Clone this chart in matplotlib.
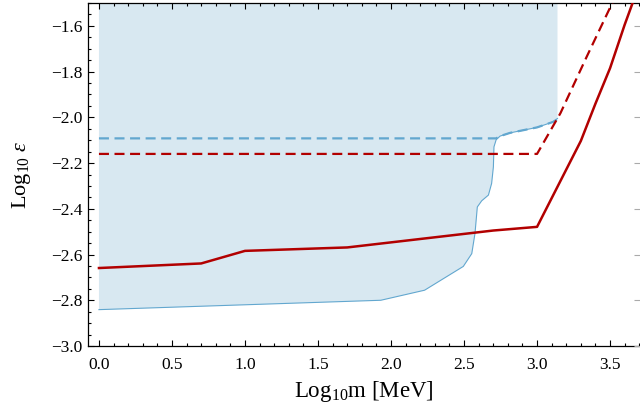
import matplotlib
matplotlib.use("Agg")
import matplotlib.pyplot as plt
from matplotlib.ticker import MultipleLocator

plt.rcParams['font.family'] = ['Liberation Serif', 'DejaVu Serif']
plt.rcParams['mathtext.fontset'] = 'custom'
plt.rcParams['mathtext.rm'] = 'Liberation Serif'
plt.rcParams['mathtext.it'] = 'Liberation Serif:italic'

# excluded region (lower boundary of the shaded area)
region_x = [0.0, 1.93, 2.23, 2.495, 2.553, 2.575, 2.591, 2.621, 2.667, 2.689,
            2.701, 2.705, 2.72, 2.747, 2.815, 2.9, 3.0, 3.11, 3.14]
region_y = [-2.841, -2.80, -2.756, -2.652, -2.596, -2.508, -2.392, -2.365, -2.34, -2.289,
            -2.217, -2.129, -2.098, -2.082, -2.068, -2.057, -2.044, -2.02, -2.005]
region_right = 3.14

# projected reach, blue dashed
blue_x = [0.0, 2.72, 2.747, 2.815, 2.9, 3.0, 3.11, 3.135]
blue_y = [-2.092, -2.092, -2.082, -2.068, -2.057, -2.044, -2.02, -2.01]

# red solid
red_x = [0.0, 0.7, 1.0, 1.7, 2.7, 3.0, 3.3, 3.4, 3.5, 3.6, 3.66]
red_y = [-2.659, -2.639, -2.584, -2.569, -2.495, -2.479, -2.103, -1.94, -1.785, -1.595, -1.49]

# red dashed
redd_x = [0.0, 3.0, 3.16, 3.34, 3.53]
redd_y = [-2.16, -2.16, -1.982, -1.735, -1.48]

red = '#b20000'
blue_line = '#62a7cf'
blue_fill = '#d8e8f1'

fig = plt.figure(figsize=(6.4, 4.09), dpi=100)
ax = fig.add_axes([88 / 640, 1 - 346 / 409, 552 / 640, 343 / 409])

poly_x = region_x + [region_right, region_right, 0.0]
poly_y = region_y + [-2.0, -1.3, -1.3]
ax.fill(poly_x, poly_y, color=blue_fill, lw=0, zorder=1)
ax.plot(region_x, region_y, color=blue_line, lw=0.8, zorder=2)
ax.plot(blue_x, blue_y, color=blue_line, lw=1.6, ls=(0, (4.5, 2.5)), zorder=3)

ax.plot(red_x, red_y, color=red, lw=1.8, zorder=4)
ax.plot(redd_x, redd_y, color=red, lw=1.6, ls=(0, (4.5, 2.5)), zorder=4)

ax.set_xlim(-0.075, 3.705)
ax.set_ylim(-3.0, -1.5)

ax.xaxis.set_major_locator(MultipleLocator(0.5))
ax.xaxis.set_minor_locator(MultipleLocator(0.1))
ax.yaxis.set_major_locator(MultipleLocator(0.2))
ax.yaxis.set_minor_locator(MultipleLocator(0.05))
ax.xaxis.set_major_formatter(plt.FormatStrFormatter('%.1f'))
ax.yaxis.set_major_formatter(plt.FuncFormatter(lambda v, p: ('\u2212%.1f' % abs(v)) if v < 0 else '%.1f' % v))

ax.tick_params(which='both', direction='in', top=True, right=False, labelsize=12.5,
               width=0.8, color='black')
ax.tick_params(which='major', length=4.5)
ax.tick_params(which='minor', length=2.5)
ax.tick_params(axis='x', pad=8)
ax.tick_params(axis='y', pad=4)

ax.spines['right'].set_visible(False)
for s in ['left', 'bottom', 'top']:
    ax.spines[s].set_linewidth(0.9)

# right-side gray major ticks
ax2 = ax.twinx()
ax2.set_ylim(ax.get_ylim())
ax2.yaxis.set_major_locator(MultipleLocator(0.2))
ax2.tick_params(which='major', direction='in', length=4, color='#aaaaaa', labelright=False)
ax2.tick_params(which='minor', right=False)
for s in ax2.spines.values():
    s.set_visible(False)

ax.set_xlabel(r'Log$_{10}$m [MeV]', fontsize=16.5, labelpad=4)
ax.set_ylabel(r'Log$_{10}$ $\varepsilon$', fontsize=16, labelpad=13)

fig.savefig('out.png', dpi=100)
